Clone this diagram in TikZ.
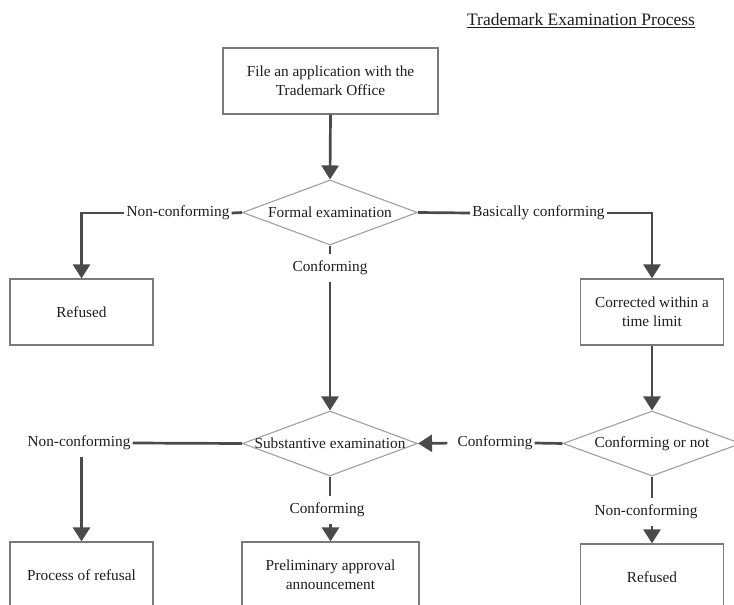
\documentclass[tikz,border=0pt]{standalone}
\usepackage{fontspec}
\setmainfont{Liberation Serif}
\usetikzlibrary{arrows.meta,shapes.geometric}
\definecolor{linec}{HTML}{4A4A4A}
\definecolor{boxc}{HTML}{7A7A7A}
\definecolor{diac}{HTML}{A0A0A0}
\definecolor{txtc}{HTML}{1E1E1E}
\begin{document}
\begin{tikzpicture}[x=1pt,y=-1pt,
  every node/.style={font=\fontsize{15.3}{18.5}\selectfont, text=txtc},
  procbox/.style={draw=boxc, line width=1.2pt, minimum width=143pt, minimum height=66pt, align=center, inner sep=0pt},
  decision/.style={diamond, draw=diac, line width=1.1pt, inner sep=0pt, minimum width=175pt, minimum height=65pt},
  lbl/.style={inner xsep=2pt, inner ysep=7pt},
  conn/.style={draw=linec, line width=2.7pt},
  arr/.style={conn, -{Triangle[width=17pt,length=14pt]}},
]
\fill[white] (0,0) rectangle (734,605);
\useasboundingbox (0,0) rectangle (734,605);

\node (title) at (581,21) {\fontsize{17.5}{20}\selectfont\underline{Trademark Examination Process}};

\node[procbox, minimum width=215pt] (file) at (330.5,81) {File an application with the\\Trademark Office};

\node[decision] (formal) at (330,212.5) {};
\node (formaltxt) at (formal.center) {Formal examination};

\node[lbl] (nc1) at (178,213) {Non-conforming};
\node[procbox] (ref1) at (81.5,312) {Refused};
\node[lbl] (bc) at (538.5,213) {Basically conforming};
\node[procbox] (corr) at (652,312) {Corrected within a\\time limit};
\node[lbl] (c1) at (330,268) {Conforming};

\node[decision] (subst) at (330,443.5) {};
\node (substtxt) at (subst.center) {Substantive examination};
\node[lbl] (nc2) at (79,443) {Non-conforming};
\node[procbox] (proc) at (81.5,575) {Process of refusal};
\node[lbl] (c2) at (327,510) {Conforming};
\node[procbox, minimum width=177pt] (prelim) at (330.5,575) {Preliminary approval\\announcement};

\node[decision, minimum width=178pt] (cn) at (652,443.5) {};
\node (cntxt) at (cn.center) {Conforming or not};
\node[lbl] (c3) at (495,443) {Conforming};
\node[lbl] (nc3) at (646,512) {Non-conforming};
\node[procbox] (ref2) at (652,577) {Refused};

\draw[arr] (file.south) -- (formal.north);
\draw[conn] (formal.west) -- (nc1.east);
\draw[arr] (nc1.west) -| (ref1.north);
\draw[conn] (formal.east) -- (bc.west);
\draw[arr] (bc.east) -| (corr.north);
\draw[conn] (formal.south) -- (c1.north);
\draw[arr] (c1.south) -- (subst.north);
\draw[arr] (corr.south) -- (cn.north);
\draw[conn] (cn.west) -- (c3.east);
\draw[arr, shorten <=8pt] (c3.west) -- (subst.east);
\draw[conn] (subst.west) -- (nc2.east);
\draw[arr] (nc2.south -| proc.north) -- (proc.north);
\draw[conn] (subst.south) -- (subst.south |- c2.north);
\draw[arr] (c2.south -| prelim.north) -- (prelim.north);
\draw[conn] (cn.south) -- (cn.south |- nc3.north);
\draw[arr] (nc3.south -| ref2.north) -- (ref2.north);
\end{tikzpicture}
\end{document}
